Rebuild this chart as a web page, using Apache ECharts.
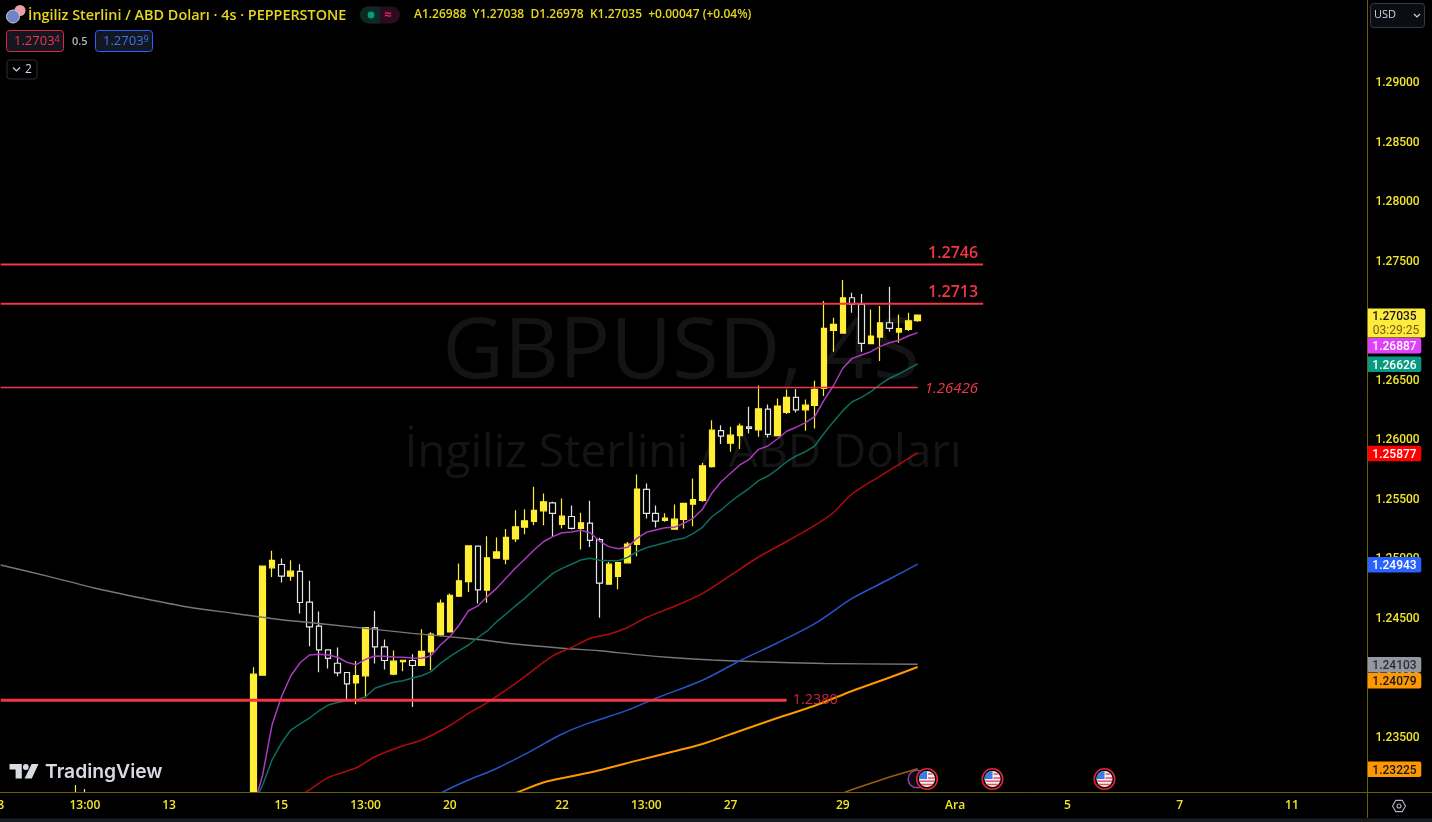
<!DOCTYPE html>
<html><head><meta charset="utf-8">
<style>html,body{margin:0;padding:0;background:#000;overflow:hidden}#c{width:1432px;height:822px}</style>
<script src="https://cdn.jsdelivr.net/npm/echarts@6/dist/echarts.min.js"></script>
</head><body><div id="c"></div>
<script>
// ---- data ----
const slotCount = 147;
const firstCandleSlot = 27;
const timeLabels = {0:'8',9:'13:00',18:'13',30:'15',39:'13:00',48:'20',60:'22',69:'13:00',78:'27',90:'29',102:'Ara',114:'5',126:'7',138:'11'};
// slot, open, close, low, high : two bars whose bodies lie under the visible range
const stubBars = [[8,1.2290,1.2295,1.2285,1.23088],[9,1.2295,1.2290,1.2285,1.23055]];
// open, close, low, high
const candles = [
[1.2286,1.24019,1.2286,1.24078],[1.2401,1.24926,1.2401,1.24926],[1.24912,1.24974,1.24836,1.25055],[1.2494,1.24842,1.24789,1.24991],
[1.24842,1.24884,1.24803,1.24976],[1.24882,1.24621,1.24529,1.24943],[1.24624,1.24416,1.24254,1.24803],[1.24422,1.24223,1.24036,1.24545],
[1.24223,1.24151,1.24067,1.24223],[1.24111,1.2403,1.24002,1.24243],[1.24033,1.23937,1.238,1.24033],[1.23946,1.24008,1.23767,1.2413],
[1.24005,1.24411,1.23823,1.24411],[1.24408,1.24248,1.24109,1.2455],[1.24248,1.24134,1.24058,1.2431],[1.24019,1.24128,1.2401,1.24218],
[1.24125,1.24136,1.24044,1.24136],[1.24134,1.24092,1.23744,1.24187],[1.24092,1.2421,1.24092,1.24397],[1.24207,1.24355,1.24052,1.24372],
[1.24349,1.24615,1.24338,1.24646],[1.24374,1.24682,1.24374,1.24697],[1.24674,1.24803,1.24668,1.24949],[1.24797,1.25097,1.2471,1.25097],
[1.25094,1.24727,1.24613,1.25094],[1.24724,1.24996,1.24618,1.25178],[1.24993,1.25046,1.24988,1.25167],[1.24986,1.25167,1.24943,1.25239],
[1.25155,1.25256,1.25128,1.25396],[1.25253,1.25307,1.25195,1.25405],[1.25301,1.25394,1.2527,1.25592],[1.25391,1.25466,1.2527,1.25537],
[1.25458,1.25369,1.25172,1.25466],[1.25276,1.25346,1.25243,1.25495],[1.25343,1.25243,1.25234,1.25436],[1.25243,1.2529,1.25066,1.25374],
[1.25287,1.25142,1.25088,1.25475],[1.25149,1.24783,1.24492,1.25164],[1.24775,1.24943,1.24775,1.24962],[1.2484,1.24957,1.24733,1.24962],
[1.24954,1.25111,1.24954,1.25128],[1.25108,1.25573,1.2501,1.25696],[1.25571,1.25369,1.25327,1.25621],[1.25369,1.25304,1.25251,1.25436],
[1.2531,1.25329,1.25298,1.25371],[1.25237,1.25321,1.25237,1.25444],[1.25318,1.25453,1.25243,1.25453],[1.25447,1.25486,1.25262,1.25663],
[1.25478,1.25769,1.25466,1.25794],[1.25762,1.26068,1.25755,1.26152],[1.26065,1.26018,1.25951,1.2611],[1.25959,1.26026,1.25886,1.26096],
[1.26023,1.26102,1.25909,1.26125],[1.26096,1.26083,1.26041,1.26264],[1.26071,1.26247,1.26012,1.26444],[1.26245,1.26032,1.26007,1.26284],
[1.26023,1.2627,1.26023,1.26335],[1.26217,1.26343,1.26203,1.2641],[1.26343,1.26239,1.26217,1.26413],[1.26239,1.26278,1.26063,1.26326],
[1.26276,1.2641,1.26083,1.26483],[1.26419,1.26923,1.26354,1.27152],[1.26906,1.26956,1.26726,1.27012],[1.26883,1.2718,1.26883,1.27328],
[1.2718,1.27124,1.27054,1.27222],[1.27124,1.26797,1.26726,1.27211],[1.26794,1.26858,1.26794,1.27082],[1.2685,1.2697,1.26648,1.2711],
[1.2697,1.26923,1.26894,1.27272],[1.26892,1.2692,1.26802,1.2704],[1.26914,1.26987,1.269,1.27054],[1.26988,1.27035,1.26978,1.27038]
];
// averages, one value per candle starting at the first candle
const maPurple = [1.2290,1.23173,1.23592,1.23827,1.24004,1.24115,1.2418,1.24186,1.2418,1.24161,1.24119,1.24099,1.24144,1.24172,1.2417,1.24163,1.24161,1.24155,1.24152,1.24174,1.24264,1.24334,1.24432,1.24552,1.24592,1.2467,1.2474,1.24824,1.24908,1.24984,1.25062,1.25131,1.25174,1.25207,1.25213,1.25227,1.25207,1.25137,1.2509,1.25073,1.25084,1.2516,1.2521,1.2523,1.25249,1.25252,1.25286,1.25328,1.25404,1.25538,1.25635,1.25706,1.25776,1.25823,1.25907,1.25935,1.25994,1.26059,1.26092,1.26131,1.26181,1.26321,1.26441,1.26588,1.26671,1.26699,1.26727,1.26772,1.26802,1.26823,1.26859,1.26887];
const maTeal = [1.2292,1.23088,1.23298,1.23441,1.2355,1.23601,1.23651,1.2371,1.2376,1.23781,1.23796,1.23802,1.2383,1.23901,1.23928,1.23951,1.23964,1.23987,1.24006,1.2404,1.2411,1.24166,1.24216,1.24264,1.24327,1.24382,1.2446,1.24524,1.24592,1.24656,1.24726,1.24796,1.24866,1.24908,1.24942,1.24978,1.24992,1.24975,1.24972,1.24972,1.25,1.25047,1.25081,1.25101,1.25123,1.25146,1.2516,1.25199,1.25252,1.25341,1.25398,1.25467,1.25524,1.2558,1.25644,1.25683,1.25739,1.25803,1.25851,1.25887,1.25935,1.26042,1.26139,1.26232,1.26307,1.26344,1.26391,1.26453,1.26504,1.2654,1.26582,1.26626];
// sampled averages: [candle number, value]
const maRed = [[5,1.2300],[6,1.23047],[8,1.23151],[11,1.23233],[13,1.23326],[16,1.23418],[18,1.23466],[21,1.23588],[23,1.2369],[25,1.23781],[28,1.23939],[32,1.24172],[34,1.24243],[36,1.24319],[38,1.24354],[40,1.24411],[42,1.24495],[45,1.24589],[48,1.24695],[51,1.24849],[54,1.25003],[57,1.25133],[60,1.25269],[62,1.25377],[64,1.25532],[67,1.25683],[71,1.25877]];
const maBlue = [[20,1.23017],[21,1.23059],[23,1.2313],[26,1.23227],[29,1.23345],[33,1.23517],[36,1.23612],[40,1.23717],[43,1.23816],[48,1.23968],[52,1.24132],[56,1.24281],[60,1.24443],[64,1.24655],[68,1.24818],[71,1.24943]];
const maOrange = [[27,1.2300],[28,1.23021],[31,1.2311],[34,1.23162],[37,1.23213],[41,1.23293],[45,1.23372],[48,1.23433],[52,1.23542],[56,1.23651],[60,1.23754],[64,1.23878],[68,1.23991],[71,1.24079]];
const maDarkOrange = [[63,1.2302],[64,1.23051],[68,1.23156],[71,1.23225]];
// long average: [axis slot, value]
const maGrey = [[0,1.24936],[5,1.24843],[10,1.24743],[15,1.24659],[20,1.24583],[25,1.24529],[30,1.24476],[34,1.24445],[44,1.24362],[51,1.2431],[55,1.24272],[60,1.24237],[64,1.24216],[68,1.24183],[72,1.24157],[76,1.24138],[81,1.24123],[88,1.24109],[98,1.24103]];
const levelValues = [1.2746,1.2713,1.26426,1.2380];
const levelLabels = ['1.2746','1.2713','1.26426','1.2380'];
const levelEndSlots = [105,105,98,84];
const priceTicks = [1.235,1.24,1.245,1.25,1.255,1.26,1.265,1.27,1.275,1.28,1.285,1.29];
const tagValues = [1.27035,1.26887,1.26626,1.25877,1.24943,1.24103,1.24079,1.23225];
const tagColors = ['#FFEB3B','#E040FB','#089981','#FF0000','#2962FF','#9598A1','#FF9800','#FF9800'];
const tagInk = ['#131722','#fff','#fff','#fff','#fff','#2a2e39','#131722','#131722'];
const countdown = '03:29:25';

// ---- drawing ----
const YEL='#F2E52B', HEAD='#E6D71E', AXIS='#6B6000', RED='#F23645';
const FONT='"Open Sans","Noto Sans",sans-serif';
const cats = Array.from({length:slotCount},(_,i)=>timeLabels[i]||'');
const candleRows = cats.map(()=>['-','-','-','-']);
stubBars.forEach(b=>{candleRows[b[0]]=b.slice(1)});
candles.forEach((c,i)=>{candleRows[firstCandleSlot+i]=c});
const fromCandles = arr=>arr.map((v,i)=>[firstCandleSlot+i,v]);
const fromSamples = arr=>arr.map(p=>[firstCandleSlot+p[0],p[1]]);
const ma=(name,data,color,w,smooth)=>({name,type:'line',data,showSymbol:false,symbol:'none',smooth:smooth||false,silent:true,z:4,
  lineStyle:{color,width:w},clip:true});
const levelStyle=[
 {w:2,lab:{color:RED,fontSize:16,fontWeight:600,position:'top',align:'right',offset:[-13,-11]}},
 {w:2,lab:{color:RED,fontSize:16,fontWeight:600,position:'top',align:'right',offset:[-13,-11]}},
 {w:1.5,lab:{color:RED,fontSize:15,fontStyle:'italic',position:'right',offset:[-1,1]}},
 {w:3,lab:{color:'#C8283A',fontSize:14.5,position:'right',offset:[-2,0]}}
];
const levels=levelValues.map((v,i)=>({name:'level'+i,type:'line',data:[[0,v],[levelEndSlots[i],v]],symbol:'none',silent:true,z:5,
  lineStyle:{color:RED,width:levelStyle[i].w},
  endLabel:Object.assign({show:true,fontFamily:FONT,formatter:()=>levelLabels[i]},levelStyle[i].lab)}));

let tagBottom=-1e9;
const tagSeries={name:'tags',type:'custom',data:tagValues.map(v=>[98,v]),encode:{x:0,y:1},clip:false,silent:true,z:10,
 renderItem(p,api){
  const i=p.dataIndex; if(i===0) tagBottom=-1e9;
  const y=api.coord([98,api.value(1)])[1];
  const big=i===0, h=big?29:15.5, w=big?57.5:53.5;
  const top=Math.max(y-(big?6.5:7.2),tagBottom+0.5); tagBottom=top+h;
  const ch=[{type:'rect',shape:{x:1367.8,y:top,width:w,height:h,r:[0,2,2,0]},style:{fill:tagColors[i]}},
   {type:'text',style:{x:1394.5,y:top+(big?8:9),text:tagValues[i].toFixed(5),fill:tagInk[i],font:'500 12px Roboto,sans-serif',textAlign:'center',textVerticalAlign:'middle'}}];
  if(big) ch.push({type:'text',style:{x:1396,y:top+22,text:countdown,fill:'#6b5f10',font:'12px Roboto,sans-serif',textAlign:'center',textVerticalAlign:'middle'}});
  return {type:'group',children:ch};
 }};

function flag(x,y){return {type:'group',x,y,children:[
 {type:'circle',shape:{r:10.3},style:{fill:'#000',stroke:'#E0263C',lineWidth:1.6}},
 {type:'circle',shape:{r:8},style:{fill:'#EEF1F6'}},
 {type:'sector',shape:{r:8,startAngle:Math.PI,endAngle:Math.PI*1.5},style:{fill:'#3C78E8'}},
 {type:'line',shape:{x1:1,y1:-5,x2:5.5,y2:-5},style:{stroke:'#E8505F',lineWidth:1.5}},
 {type:'line',shape:{x1:1,y1:-1,x2:7.8,y2:-1},style:{stroke:'#E8505F',lineWidth:1.5}},
 {type:'line',shape:{x1:-7.7,y1:2.2,x2:7.7,y2:2.2},style:{stroke:'#E8505F',lineWidth:1.5}},
 {type:'line',shape:{x1:-6,y1:5.5,x2:6,y2:5.5},style:{stroke:'#E8505F',lineWidth:1.5}}
]}}
const T=(x,y,text,fill,font,extra)=>({type:'text',x,y,silent:true,style:Object.assign({text,fill,font,textVerticalAlign:'middle'},extra||{})});
const R=(x,y,w,h,fill,stroke,r)=>({type:'rect',silent:true,shape:{x,y,width:w,height:h,r:r||0},style:{fill,stroke,lineWidth:1}});
const graphics=[
 // watermark
 T(681,354,'GBPUSD, 4S','#141414','85px '+FONT,{textAlign:'center'}),
 T(683,454,'İngiliz Sterlini / ABD Doları','#141414','46px '+FONT,{textAlign:'center'}),
 // strip under the time axis, hides what runs below the visible range
 Object.assign(R(0,793,1367,25.5,'#000'),{z:8}),
 // axis extensions
 {type:'line',silent:true,z:9,shape:{x1:1371,y1:792.5,x2:1432,y2:792.5},style:{stroke:AXIS,lineWidth:1}},
 {type:'line',silent:true,z:9,shape:{x1:1367.5,y1:792,x2:1367.5,y2:818},style:{stroke:AXIS,lineWidth:1}},
 Object.assign(R(0,818.5,1432,4,'#1a1c22'),{z:9}),
 // symbol icons
 {type:'circle',silent:true,x:20,y:10.5,shape:{r:5.5},style:{fill:'#E8A0A8'}},
 {type:'circle',silent:true,x:13,y:16.5,shape:{r:6.5},style:{fill:'#6E84C8',stroke:'#d0c8d8',lineWidth:1}},
 // title row
 T(28,15.5,'İngiliz Sterlini / ABD Doları · 4s · PEPPERSTONE',HEAD,'600 14.4px '+FONT),
 R(360,6.5,40,17,'#2a0c20',null,8.5), R(360,6.5,20,17,'#0b2a26',null,[8.5,0,0,8.5]),
 {type:'circle',silent:true,x:371,y:15,shape:{r:3.4},style:{fill:'#089981'}},
 T(388,15,'≈','#E91E63','bold 13px '+FONT,{textAlign:'center'}),
 T(414,15,'A1.26988  Y1.27038  D1.26978  K1.27035  +0.00047 (+0.04%)',HEAD,'600 12px '+FONT),
 // buy / sell boxes
 R(6.5,30.5,57,21,'#131722','#E0263C',3),
 {type:'text',x:14,y:41,silent:true,style:{text:'{a|1.2703}{b|4}',fill:'#F23645',textVerticalAlign:'middle',rich:{a:{fill:'#F23645',font:'13px '+FONT},b:{fill:'#F23645',font:'9px '+FONT,verticalAlign:'top'}}}},
 T(72,41.5,'0.5','#B2B5BE','600 11px '+FONT),
 R(95.5,30.5,57,21,'#131722','#2962FF',3),
 {type:'text',x:103,y:41,silent:true,style:{text:'{a|1.2703}{b|9}',fill:'#2962FF',textVerticalAlign:'middle',rich:{a:{fill:'#3D72F0',font:'13px '+FONT},b:{fill:'#3D72F0',font:'9px '+FONT,verticalAlign:'top'}}}},
 R(7,60,30,19,'#000','#2a2e39',3),
 {type:'polyline',silent:true,shape:{points:[[13,67.5],[16.5,71],[20,67.5]]},style:{stroke:'#D1D4DC',lineWidth:1.2,fill:null}},
 T(25,69.5,'2','#D1D4DC','12px '+FONT),
 // currency box
 R(1370.5,3.5,54,24,'#0c0d12','#363a45',3),
 T(1374,15,'USD','#D1D4DC','11px '+FONT),
 {type:'polyline',silent:true,shape:{points:[[1414,14],[1417,17],[1420,14]]},style:{stroke:'#D1D4DC',lineWidth:1.1,fill:null}},
 // settings icon
 {type:'polygon',silent:true,x:1399,y:806,shape:{points:[[-6.5,0],[-3.2,-5.6],[3.2,-5.6],[6.5,0],[3.2,5.6],[-3.2,5.6]]},style:{fill:null,stroke:'#B2B5BE',lineWidth:1.1}},
 {type:'circle',silent:true,x:1399,y:806,shape:{r:2},style:{fill:null,stroke:'#B2B5BE',lineWidth:1.1}},
 // logo
 {type:'polygon',silent:true,shape:{points:[[9.5,764],[21.8,764],[21.8,778.5],[15.6,778.5],[15.6,769.6],[9.5,769.6]]},style:{fill:'#D9DBE2'}},
 {type:'circle',silent:true,x:25.8,y:767,shape:{r:2.9},style:{fill:'#D9DBE2'}},
 {type:'polygon',silent:true,shape:{points:[[31.6,764],[38.5,764],[31.8,778.5],[24.6,778.5]]},style:{fill:'#D9DBE2'}},
 T(45,772,'TradingView','#D9DBE2','600 19.3px Inter,sans-serif'),
 // event markers
 {type:'circle',silent:true,x:917,y:779,shape:{r:8.8},style:{fill:'#0a0a10',stroke:'#8E3FA8',lineWidth:1.5}},
 flag(927,779),flag(992.5,779),flag(1104.5,779)
];

const chart=echarts.init(document.getElementById('c'),null,{renderer:'canvas'});
chart.setOption({
 animation:false,backgroundColor:'#000',
 grid:{left:-4.02,width:slotCount*9.357,top:0,height:792.5,containLabel:false,outerBoundsMode:'none'},
 xAxis:{type:'category',data:cats,boundaryGap:true,z:9,
  axisLine:{show:true,lineStyle:{color:AXIS,width:1}},axisTick:{show:false},splitLine:{show:false},
  axisLabel:{interval:0,color:YEL,fontSize:12,fontWeight:600,fontFamily:FONT,margin:7,hideOverlap:false}},
 yAxis:{type:'value',position:'right',offset:-4.02,min:1.230255,max:1.296802,
  axisLine:{show:true,onZero:false,lineStyle:{color:AXIS,width:1}},axisTick:{show:false},splitLine:{show:false},
  axisLabel:{customValues:priceTicks,formatter:v=>'{p|'+v.toFixed(5)+'}',margin:8,
   rich:{p:{color:YEL,fontSize:12,fontWeight:500,fontFamily:'Roboto,sans-serif',padding:[4,0,0,0]}}}},
 graphic:{elements:graphics},
 series:[
  {name:'price',type:'candlestick',data:candleRows,barWidth:6,silent:true,z:3,
   itemStyle:{color:'#FFEE33',color0:'#000',borderColor:'#FFEE33',borderColor0:'#E4E4E4',borderWidth:1.2}},
  ma('grey',maGrey,'#777777',1.4,0.3),
  ma('darkOrange',fromSamples(maDarkOrange),'#9A6108',1.5),
  ma('orange',fromSamples(maOrange),'#FF9800',2,0.3),
  ma('blue',fromSamples(maBlue),'#2356C8',1.5,0.3),
  ma('red',fromSamples(maRed),'#B00A0A',1.5,0.3),
  ma('teal',fromCandles(maTeal),'#0B6E5F',1.5),
  ma('purple',fromCandles(maPurple),'#AA3BC0',1.5),
  ...levels,
  tagSeries
 ]
});
</script></body></html>
